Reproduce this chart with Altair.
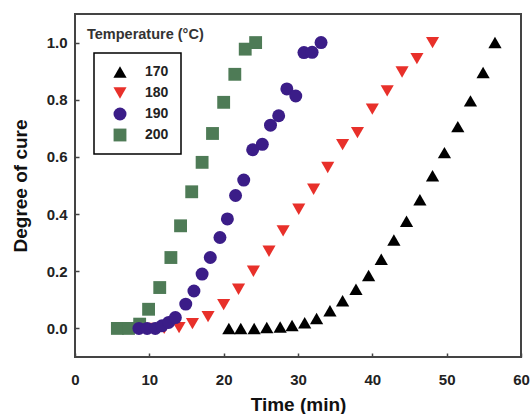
import altair as alt
import pandas as pd

temps = ["170", "180", "190", "200"]

t170 = [20.7, 22.3, 24.1, 25.8, 27.6, 29.2, 30.9, 32.5, 34.3, 36.0, 37.8,
        39.5, 41.2, 42.9, 44.6, 46.4, 48.1, 49.7, 51.5, 53.2, 54.9, 56.5]
v170 = [0.0, 0.0, 0.0, 0.003, 0.005, 0.01, 0.02, 0.035, 0.062, 0.097, 0.137,
        0.185, 0.242, 0.309, 0.375, 0.45, 0.534, 0.615, 0.706, 0.796, 0.895, 1.0]

t180 = [10.4, 12.0, 14.0, 15.8, 17.9, 20.0, 22.0, 24.0, 26.1, 28.0,
        30.1, 32.1, 34.0, 36.0, 38.0, 40.0, 42.0, 44.0, 46.0, 48.1]
v180 = [0.0, 0.0, 0.003, 0.017, 0.041, 0.083, 0.137, 0.2, 0.27, 0.341,
        0.417, 0.487, 0.563, 0.643, 0.685, 0.767, 0.831, 0.897, 0.944, 1.0]

t190 = [8.6, 9.7, 10.8, 11.7, 12.6, 13.5, 14.9, 16.0, 17.1, 18.2, 19.5, 20.5,
        21.6, 22.7, 23.9, 25.2, 26.3, 27.4, 28.5, 29.7, 30.8, 31.9, 33.1]
v190 = [0.0, 0.0, 0.0, 0.009, 0.021, 0.038, 0.085, 0.131, 0.19, 0.248, 0.318, 0.383,
        0.465, 0.519, 0.625, 0.644, 0.711, 0.744, 0.838, 0.813, 0.965, 0.966, 1.0]

t200 = [5.7, 7.2, 8.7, 9.9, 11.4, 12.9, 14.2, 15.7, 17.1, 18.5, 20.0, 21.5, 22.9, 24.3]
v200 = [0.0, 0.0, 0.015, 0.067, 0.143, 0.248, 0.359, 0.478, 0.581, 0.682, 0.791,
        0.889, 0.977, 1.0]

x_ticks = [0, 10, 20, 30, 40, 50, 60]
y_ticks = [0.0, 0.2, 0.4, 0.6, 0.8, 1.0]
legend_title = "Temperature (°C)"

colors = ["#000000", "#e8302a", "#3b1d88", "#4e7b56"]
shapes = ["triangle-up", "triangle-down", "circle", "square"]
sizes = [175, 165, 130, 140]

rows = []
for temp, ts, vs in [("170", t170, v170), ("180", t180, v180),
                     ("200", t200, v200), ("190", t190, v190)]:
    for t, v in zip(ts, vs):
        rows.append({"time": t, "cure": v, "temp": temp})
df = pd.DataFrame(rows)

FONT = "Liberation Sans"

leg = alt.Legend(title=None, orient="none", legendX=19, legendY=39,
                 strokeColor="black", padding=12, symbolOffset=7,
                 labelOffset=18, rowPadding=7, labelFont=FONT,
                 labelFontSize=14, labelFontWeight="bold", labelColor="#222",
                 symbolStrokeWidth=0)

points = alt.Chart(df).mark_point(filled=True, opacity=1, strokeWidth=0).encode(
    x=alt.X("time:Q",
            scale=alt.Scale(domain=[0, 60], nice=False, zero=False),
            axis=alt.Axis(values=x_ticks, title="Time (min)", offset=-4,
                          tickSize=4, labelPadding=15, domain=False, grid=False,
                          tickColor="#444", tickWidth=1.5, labelFlush=False,
                          labelFont=FONT, labelFontSize=15, labelFontWeight="bold",
                          labelColor="#222", titleFont=FONT, titleFontSize=19,
                          titleFontWeight="bold", titleColor="#111",
                          titleX=223, titleY=42)),
    y=alt.Y("cure:Q",
            scale=alt.Scale(domain=[-0.1, 1.1], nice=False, zero=False),
            axis=alt.Axis(values=y_ticks, format=".1f", title="Degree of cure",
                          offset=-4, tickSize=4, labelPadding=8, domain=False,
                          grid=False, tickColor="#444", tickWidth=1.5,
                          labelFont=FONT, labelFontSize=15, labelFontWeight="bold",
                          labelColor="#222", titleFont=FONT, titleFontSize=19,
                          titleFontWeight="bold", titleColor="#111",
                          titleX=-49, titleY=171.5)),
    color=alt.Color("temp:O", scale=alt.Scale(domain=temps, range=colors), legend=leg),
    shape=alt.Shape("temp:O", scale=alt.Scale(domain=temps, range=shapes), legend=leg),
    size=alt.Size("temp:O", scale=alt.Scale(domain=temps, range=sizes), legend=leg),
)

title_df = pd.DataFrame({"label": [legend_title]})
title_text = alt.Chart(title_df).mark_text(
    align="left", baseline="middle", font=FONT, fontSize=14.5,
    fontWeight="bold", color="#333").encode(
    x=alt.value(12), y=alt.value(21), text="label:N")

chart = alt.layer(points, title_text).properties(
    width=446, height=343, autosize="none",
    padding={"left": 75, "top": 14, "right": 11, "bottom": 57},
    background="white",
).configure_view(stroke="#444", strokeWidth=2).configure_legend(strokeWidth=1.5)

chart.save("out.html", embed_options={"renderer": "svg", "actions": False})
